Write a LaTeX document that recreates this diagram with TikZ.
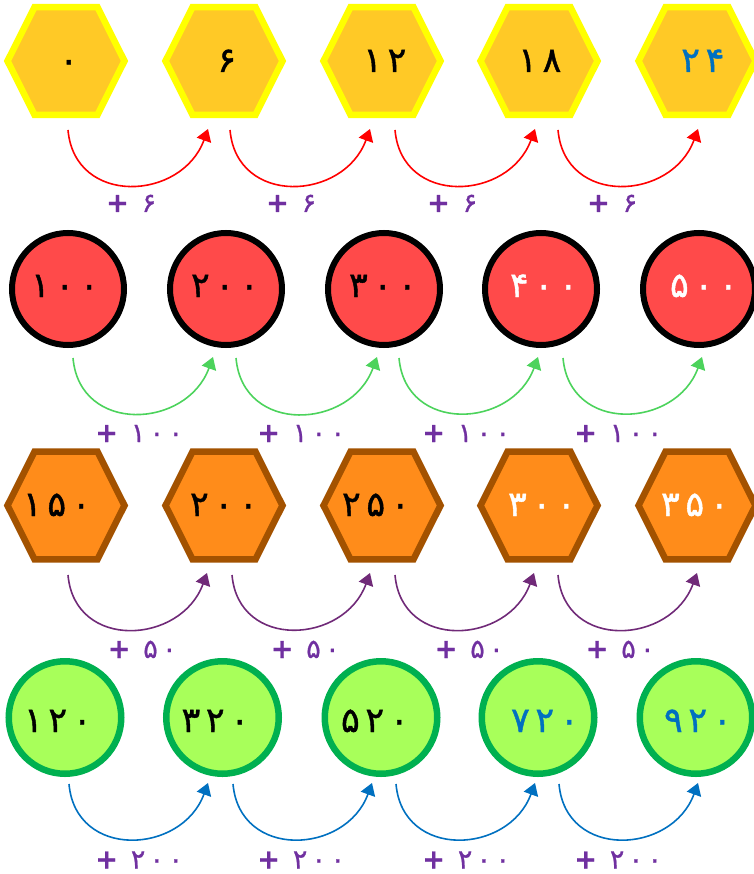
\documentclass[tikz,border=0pt]{standalone}
\usepackage{fontspec}
\newfontfamily\fa[Script=Arabic,LetterSpace=16,FakeBold=1.2]{DejaVu Sans}
\newfontfamily\fb[Script=Arabic,LetterSpace=16,FakeBold=0.8]{DejaVu Sans}
\usetikzlibrary{arrows.meta,calc}
\definecolor{hexAfill}{HTML}{FFC926}
\definecolor{hexAline}{HTML}{FFFF00}
\definecolor{circBfill}{HTML}{FF4A4A}
\definecolor{hexCfill}{HTML}{FF8C1A}
\definecolor{hexCline}{HTML}{A35200}
\definecolor{circDfill}{HTML}{A8FF5A}
\definecolor{circDline}{HTML}{00B050}
\definecolor{arrA}{HTML}{FF0000}
\definecolor{arrB}{HTML}{4CD35C}
\definecolor{arrC}{HTML}{702A78}
\definecolor{arrD}{HTML}{0070C0}
\definecolor{lblc}{HTML}{7030A0}
\definecolor{bluetxt}{HTML}{0070C0}
\newcommand{\pl}{{\bfseries +}}
\begin{document}
\begin{tikzpicture}[x=1pt,y=1pt,
  hexbox/.style={rectangle,inner sep=0,outer sep=0,minimum width=124,minimum height=114},
  hexA/.style={draw=hexAline,fill=hexAfill,line width=6.5pt,line join=miter},
  hexC/.style={draw=hexCline,fill=hexCfill,line width=6.5pt,line join=miter},
  circB/.style={circle,draw=black,fill=circBfill,line width=6pt,minimum size=112,inner sep=0,outer sep=0},
  circD/.style={circle,draw=circDline,fill=circDfill,line width=6.5pt,minimum size=112.5,inner sep=0,outer sep=0},
  num/.style={font=\fa\fontsize{35}{40}\selectfont,inner sep=0,anchor=base,xshift=2.8pt,text depth=0pt},
  lbl/.style={font=\fb\fontsize{27}{30}\selectfont,text=lblc,inner sep=0,anchor=base,xshift=2.2pt,text depth=0pt},
  jump/.style={line width=1.6pt,-{Triangle[width=15pt,length=12pt]}},
]
\useasboundingbox (0,0) rectangle (753,-874);

% ---------- row 1: yellow hexagons ----------
\foreach \i/\x in {1/66,2/224,3/382,4/539,5/697}{
  \draw[hexA] (\x,-61) ++(-58.5,0) -- ++(27,53.8) -- ++(63,0) -- ++(27,-53.8) -- ++(-27,-53.8) -- ++(-63,0) -- cycle;
  \node[hexbox] (a\i) at (\x,-61) {};
}
\node[num,text=black] (ta1) at ($(a1)+(0,-11)$) {۰};
\node[num,text=black] (ta2) at ($(a2)+(0,-11)$) {۶};
\node[num,text=black] (ta3) at ($(a3)+(0,-11)$) {۱۲};
\node[num,text=black] (ta4) at ($(a4)+(-2,-11)$) {۱۸};
\node[num,text=bluetxt] (ta5) at ($(a5)+(3,-11)$) {۲۴};
\foreach \i/\j/\s/\e in {1/2/2/-16,2/3/6/-12,3/4/13/-4,4/5/19/1}
  \draw[jump,arrA] ($(a\i)+(\s,-69)$) to[out=-85,in=-110,looseness=1.4] ($(a\j)+(\e,-68)$);
\node[lbl] (la1) at ($(a1)+(63,-151)$) {\pl\ ۶};
\node[lbl] (la2) at ($(a2)+(65,-151)$) {\pl\ ۶};
\node[lbl] (la3) at ($(a3)+(68,-151)$) {\pl\ ۶};
\node[lbl] (la4) at ($(a4)+(71,-151)$) {\pl\ ۶};

% ---------- row 2: red circles ----------
\foreach \i/\x in {1/68,2/226,3/384,4/541,5/699}{
  \node[circB] (b\i) at (\x,-289) {};
}
\node[num,text=black] (tb1) at ($(b1)+(-6,-8)$) {۱۰۰};
\node[num,text=black] (tb2) at ($(b2)+(-4,-8)$) {۲۰۰};
\node[num,text=black] (tb3) at ($(b3)+(-4,-8)$) {۳۰۰};
\node[num,text=white] (tb4) at ($(b4)+(0,-8)$) {۴۰۰};
\node[num,text=white] (tb5) at ($(b5)+(2,-8)$) {۵۰۰};
\foreach \i/\j/\s/\e in {1/2/5/-13,2/3/10/-7,3/4/15/-3,4/5/22/3}
  \draw[jump,arrB] ($(b\i)+(\s,-69)$) to[out=-85,in=-110,looseness=1.4] ($(b\j)+(\e,-68)$);
\node[lbl] (lb1) at ($(b1)+(69,-153)$) {\pl\ ۱۰۰};
\node[lbl] (lb2) at ($(b2)+(73,-153)$) {\pl\ ۱۰۰};
\node[lbl] (lb3) at ($(b3)+(80,-153)$) {\pl\ ۱۰۰};
\node[lbl] (lb4) at ($(b4)+(75,-153)$) {\pl\ ۱۰۰};

% ---------- row 3: orange hexagons ----------
\foreach \i/\x in {1/66,2/224,3/382,4/539,5/697}{
  \draw[hexC] (\x,-505.5) ++(-58.5,0) -- ++(27,53.8) -- ++(63,0) -- ++(27,-53.8) -- ++(-27,-53.8) -- ++(-63,0) -- cycle;
  \node[hexbox] (c\i) at (\x,-505.5) {};
}
\node[num,text=black] (tc1) at ($(c1)+(-12,-10.5)$) {۱۵۰};
\node[num,text=black] (tc2) at ($(c2)+(-3,-10.5)$) {۲۰۰};
\node[num,text=black] (tc3) at ($(c3)+(-9,-10.5)$) {۲۵۰};
\node[num,text=white] (tc4) at ($(c4)+(0,-10.5)$) {۳۰۰};
\node[num,text=white] (tc5) at ($(c5)+(-5,-10.5)$) {۳۵۰};
\foreach \i/\j/\s/\e in {1/2/2/-17,2/3/8/-12,3/4/13/-5,4/5/19/0}
  \draw[jump,arrC] ($(c\i)+(\s,-69.5)$) to[out=-85,in=-110,looseness=1.4] ($(c\j)+(\e,-67.5)$);
\node[lbl] (lc1) at ($(c1)+(74,-152.5)$) {\pl\ ۵۰};
\node[lbl] (lc2) at ($(c2)+(79,-152.5)$) {\pl\ ۵۰};
\node[lbl] (lc3) at ($(c3)+(85,-152.5)$) {\pl\ ۵۰};
\node[lbl] (lc4) at ($(c4)+(79,-152.5)$) {\pl\ ۵۰};

% ---------- row 4: green circles ----------
\foreach \i/\x in {1/65,2/222.5,3/381,4/538,5/696}{
  \node[circD] (d\i) at (\x,-717.5) {};
}
\node[num,text=black] (td1) at ($(d1)+(-10,-14.5)$) {۱۲۰};
\node[num,text=black] (td2) at ($(d2)+(-10,-14.5)$) {۳۲۰};
\node[num,text=black] (td3) at ($(d3)+(-9,-14.5)$) {۵۲۰};
\node[num,text=bluetxt] (td4) at ($(d4)+(4,-14.5)$) {۷۲۰};
\node[num,text=bluetxt] (td5) at ($(d5)+(-1,-14.5)$) {۹۲۰};
\foreach \i/\j/\s/\e in {1/2/4/-14.5,2/3/10.5/-9,3/4/15/-3,4/5/21/2}
  \draw[jump,arrD] ($(d\i)+(\s,-66.5)$) to[out=-85,in=-110,looseness=1.4] ($(d\j)+(\e,-65.5)$);
\node[lbl] (ld1) at ($(d1)+(72,-151)$) {\pl\ ۲۰۰};
\node[lbl] (ld2) at ($(d2)+(76.5,-151)$) {\pl\ ۲۰۰};
\node[lbl] (ld3) at ($(d3)+(83,-151)$) {\pl\ ۲۰۰};
\node[lbl] (ld4) at ($(d4)+(78,-151)$) {\pl\ ۲۰۰};
\end{tikzpicture}
\end{document}
